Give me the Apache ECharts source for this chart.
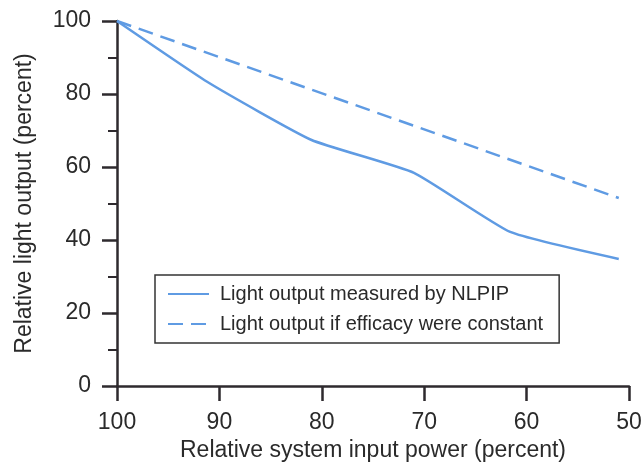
<!DOCTYPE html>
<html>
<head>
<meta charset="utf-8">
<script src="https://cdn.jsdelivr.net/npm/echarts@6/dist/echarts.min.js"></script>
<style>html,body{margin:0;padding:0;background:#fff}#c{width:642px;height:463px}</style>
</head>
<body>
<div id="c"></div>
<script>
const measuredPower = [100, 91, 81, 71, 61.6, 51];
const measuredLight = [100, 83, 67.4, 58.4, 42.2, 34.8];
const constantPower = [100, 51];
const constantLight = [100, 51.5];
const xTicks = [100, 90, 80, 70, 60, 50];
const yTicks = [0, 20, 40, 60, 80, 100];
const seriesNames = ['Light output measured by NLPIP', 'Light output if efficacy were constant'];

const FONT = '"Liberation Sans", Arial, sans-serif';
const AX = '#2e2a2e';
const BLUE = '#5f9be3';
const TXT = '#2a2a2a';

const chart = echarts.init(document.getElementById('c'));
chart.setOption({
  animation: false,
  backgroundColor: '#ffffff',
  grid: { left: 117, right: 13, top: 21, bottom: 77, containLabel: false, outerBoundsMode: 'none' },
  legend: {
    orient: 'vertical',
    left: 155, top: 275,
    padding: [9, 16, 9, 12],
    itemWidth: 41, itemHeight: 14, itemGap: 10,
    borderColor: '#333', borderWidth: 1.5,
    itemStyle: { opacity: 0 },
    textStyle: { fontFamily: FONT, fontSize: 20, color: TXT, padding: [0, 0, 0, 6] },
    data: seriesNames.map(n => ({ name: n }))
  },
  xAxis: {
    type: 'value', inverse: true, min: 50, max: 100, interval: 10,
    axisLine: { show: true, onZero: false, lineStyle: { color: AX, width: 2.5 } },
    axisTick: { show: true, inside: false, length: 15, lineStyle: { color: AX, width: 2.5 } },
    axisLabel: { fontFamily: FONT, fontSize: 23, color: TXT, margin: 25,
      formatter: v => xTicks.includes(v) ? String(v) : '' },
    splitLine: { show: false },
    name: 'Relative system input power (percent)',
    nameLocation: 'middle', nameGap: 51,
    nameTextStyle: { fontFamily: FONT, fontSize: 23, color: TXT }
  },
  yAxis: {
    type: 'value', min: 0, max: 100, interval: 20,
    axisLine: { show: true, onZero: false, lineStyle: { color: AX, width: 2.5 } },
    axisTick: { show: true, inside: false, length: 15, lineStyle: { color: AX, width: 2.5 } },
    minorTick: { show: true, splitNumber: 2, length: 9, lineStyle: { color: AX, width: 2 } },
    axisLabel: { fontFamily: FONT, fontSize: 23, color: TXT, margin: 26,
      formatter: v => yTicks.includes(v) ? String(v) : '' },
    splitLine: { show: false },
    name: 'Relative light output (percent)',
    nameLocation: 'middle', nameGap: 81, nameRotate: 90,
    nameTextStyle: { fontFamily: FONT, fontSize: 23, color: TXT }
  },
  series: [
    {
      name: seriesNames[0], type: 'line', symbol: 'none', smooth: 0.15,
      data: measuredPower.map((p, i) => [p, measuredLight[i]]),
      lineStyle: { color: BLUE, width: 2.5 }, itemStyle: { color: BLUE }
    },
    {
      name: seriesNames[1], type: 'line', symbol: 'none',
      data: constantPower.map((p, i) => [p, constantLight[i]]),
      lineStyle: { color: BLUE, width: 2.5, type: [15, 8] }, itemStyle: { color: BLUE }
    }
  ]
});
</script>
</body>
</html>
